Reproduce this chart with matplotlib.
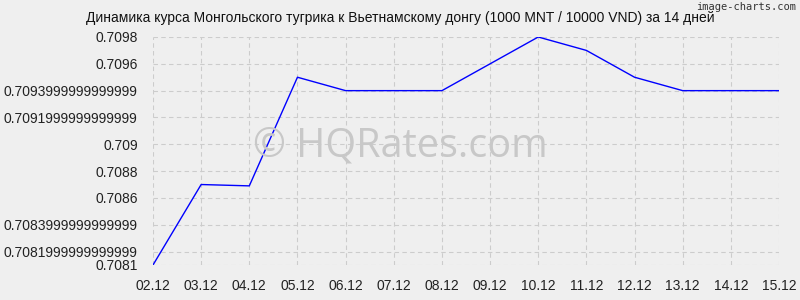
#!/usr/bin/env python3
""" MNT/VND exchange rate over 14 days """

import matplotlib
matplotlib.use("Agg")
import matplotlib.pyplot as plt

dates = ["02.12", "03.12", "04.12", "05.12", "06.12", "07.12", "08.12",
         "09.12", "10.12", "11.12", "12.12", "13.12", "14.12", "15.12"]
rates = [0.7081, 0.7087, 0.70869, 0.7095, 0.7094, 0.7094, 0.7094,
         0.7096, 0.7098, 0.7097, 0.7095, 0.7094, 0.7094, 0.7094]
y_ticks = [0.7081, 0.7082, 0.7084, 0.7086, 0.7088, 0.709,
           0.7092, 0.7094, 0.7096, 0.7098]
y_labels = ["0.7081", "0.7081999999999999", "0.7083999999999999", "0.7086",
            "0.7088", "0.709", "0.7091999999999999", "0.7093999999999999",
            "0.7096", "0.7098"]
title = "Динамика курса Монгольского тугрика к Вьетнамскому донгу (1000 MNT / 10000 VND) за 14 дней"

plt.rcParams["font.family"] = ["Liberation Sans", "DejaVu Sans"]

bg = "#efefef"
fig = plt.figure(figsize=(8, 3), dpi=100, facecolor=bg)
ax = fig.add_axes([153 / 800, 35 / 300, 626 / 800, 228 / 300])
ax.set_facecolor(bg)

x = list(range(len(dates)))
ax.plot(x, rates, color="#0000ff", lw=1, zorder=3)

ax.set_xlim(0, len(dates) - 1)
ax.set_ylim(y_ticks[0], y_ticks[-1])
ax.set_xticks(x)
ax.set_xticklabels(dates, fontsize=10)
ax.set_yticks(y_ticks)
ax.set_yticklabels(y_labels, fontsize=10)
ax.tick_params(length=0, pad=11, colors="#222222")
ax.tick_params(axis="x", pad=10)

ax.grid(True, color="#cccccc", linestyle=(0, (4, 3)), lw=0.8)
for s in ax.spines.values():
    s.set_visible(False)

fig.text(0.5, 1 - 18 / 300, title, ha="center", va="center",
         fontsize=10, color="#111111")
fig.text(0.995, 0.995, "image-charts.com", ha="right", va="top",
         fontsize=7.5, color="#333333", family="DejaVu Sans Mono")
fig.text(400 / 800, 1 - 146 / 300, "© HQRates.com", ha="center",
         va="center", fontsize=28.5, color="#c8c8c8", family="Open Sans",
         zorder=0)

fig.savefig("out.png", dpi=100, facecolor=bg)
